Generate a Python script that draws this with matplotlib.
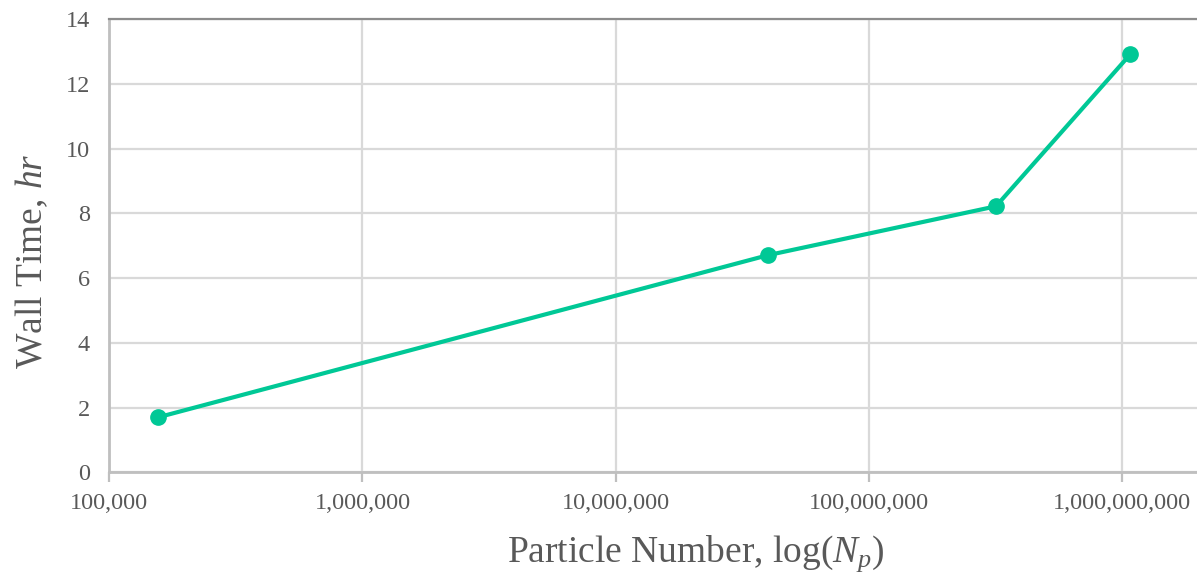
import matplotlib.pyplot as plt
from matplotlib.ticker import FixedLocator, FuncFormatter

# Data
particles = [1.56e5, 4.0e7, 3.18e8, 1.08e9]
wall_time = [1.70, 6.71, 8.22, 12.92]
x_ticks = [1e5, 1e6, 1e7, 1e8, 1e9]
y_ticks = [0, 2, 4, 6, 8, 10, 12, 14]

plt.rcParams['font.family'] = 'Liberation Serif'
plt.rcParams['mathtext.fontset'] = 'custom'
plt.rcParams['mathtext.rm'] = 'Liberation Serif'
plt.rcParams['mathtext.it'] = 'Liberation Serif:italic'

text_color = '#595959'
grid_color = '#d9d9d9'

fig = plt.figure(figsize=(11.97, 5.74), dpi=100)
ax = fig.add_axes([0.0913, 0.1772, 0.9087, 0.7892])

ax.plot(particles, wall_time, color='#00c896', linewidth=3.0, marker='o',
        markersize=11, zorder=3, clip_on=False)

ax.set_xscale('log')
ax.set_xlim(1e5, 1.98e9)
ax.set_ylim(0, 14)
ax.xaxis.set_major_locator(FixedLocator(x_ticks))
ax.xaxis.set_minor_locator(FixedLocator([]))
ax.xaxis.set_major_formatter(FuncFormatter(lambda v, p: f'{int(round(v)):,}'))
ax.set_yticks(y_ticks)

ax.grid(True, color=grid_color, linewidth=1.6)
ax.set_axisbelow(True)

ax.spines['right'].set_visible(False)
ax.spines['top'].set_color('#8c8c8c')
ax.spines['top'].set_linewidth(1.6)
ax.spines['bottom'].set_color('#bfbfbf')
ax.spines['bottom'].set_linewidth(2.0)
ax.spines['left'].set_color('#bfbfbf')
ax.spines['left'].set_linewidth(2.0)

ax.tick_params(axis='x', length=7, width=1.6, color='#bfbfbf',
               labelsize=17.5, labelcolor=text_color, pad=8)
ax.tick_params(axis='y', length=0, labelsize=17.5, labelcolor=text_color, pad=14)

# axis titles placed where the reference puts them
fig.text(0.5815, 0.0214, r'Particle Number, log($N_p$)', fontsize=27,
         color=text_color, ha='center', va='baseline')
fig.text(0.0351, 0.5444, r'Wall Time, $hr$', fontsize=27, color=text_color,
         rotation=90, rotation_mode='anchor', ha='center', va='baseline')

fig.savefig('out.png', dpi=100)
